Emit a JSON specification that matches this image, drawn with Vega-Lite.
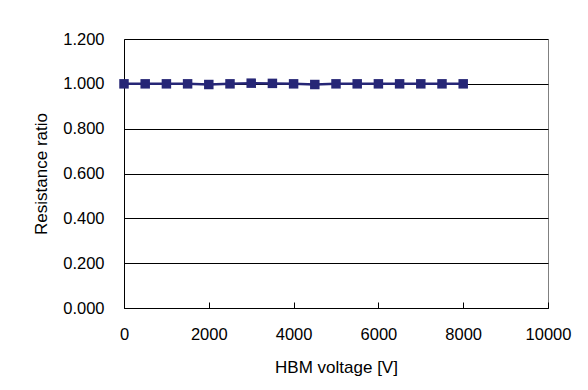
{
  "$schema": "https://vega.github.io/schema/vega-lite/v6.json",
  "width": 424,
  "height": 269,
  "autosize": {"type": "none"},
  "padding": {"left": 124, "top": 39, "right": 40, "bottom": 82},
  "background": "white",
  "config": {
    "font": "Liberation Sans",
    "view": {"stroke": "#808080", "strokeWidth": 1}
  },
  "data": {
    "values": [
      {"v": 0, "r": 1.000},
      {"v": 500, "r": 1.000},
      {"v": 1000, "r": 1.000},
      {"v": 1500, "r": 1.000},
      {"v": 2000, "r": 0.997},
      {"v": 2500, "r": 1.000},
      {"v": 3000, "r": 1.003},
      {"v": 3500, "r": 1.002},
      {"v": 4000, "r": 1.000},
      {"v": 4500, "r": 0.997},
      {"v": 5000, "r": 1.000},
      {"v": 5500, "r": 1.000},
      {"v": 6000, "r": 1.000},
      {"v": 6500, "r": 1.000},
      {"v": 7000, "r": 1.000},
      {"v": 7500, "r": 1.000},
      {"v": 8000, "r": 1.000}
    ]
  },
  "encoding": {
    "x": {
      "field": "v", "type": "quantitative",
      "scale": {"domain": [0, 10000], "nice": false, "zero": false},
      "axis": {
        "title": "HBM voltage [V]",
        "values": [0, 2000, 4000, 6000, 8000, 10000],
        "format": "d",
        "grid": false,
        "domainColor": "#000", "domainWidth": 1,
        "ticks": true, "tickSize": -6, "tickColor": "#000",
        "labelPadding": 24,
        "labelFontSize": 16.5, "labelColor": "#000",
        "titleFontSize": 17, "titleFontWeight": "normal", "titleColor": "#000",
        "titlePadding": 17,
        "labelFlush": false
      }
    },
    "y": {
      "field": "r", "type": "quantitative",
      "scale": {"domain": [0, 1.2], "nice": false, "zero": true},
      "axis": {
        "title": "Resistance ratio",
        "values": [0, 0.2, 0.4, 0.6, 0.8, 1.0, 1.2],
        "format": ".3f",
        "grid": true, "gridColor": "#000", "gridWidth": 1,
        "domainColor": "#000", "domainWidth": 1,
        "ticks": false,
        "labelPadding": 20,
        "labelFontSize": 16.5, "labelColor": "#000",
        "titleFontSize": 17, "titleFontWeight": "normal", "titleColor": "#000",
        "titlePadding": 12
      }
    }
  },
  "layer": [
    {"mark": {"type": "line", "color": "#262676", "strokeWidth": 2.5}},
    {"mark": {"type": "point", "shape": "square", "filled": true, "color": "#262676", "size": 90, "opacity": 1}}
  ]
}
